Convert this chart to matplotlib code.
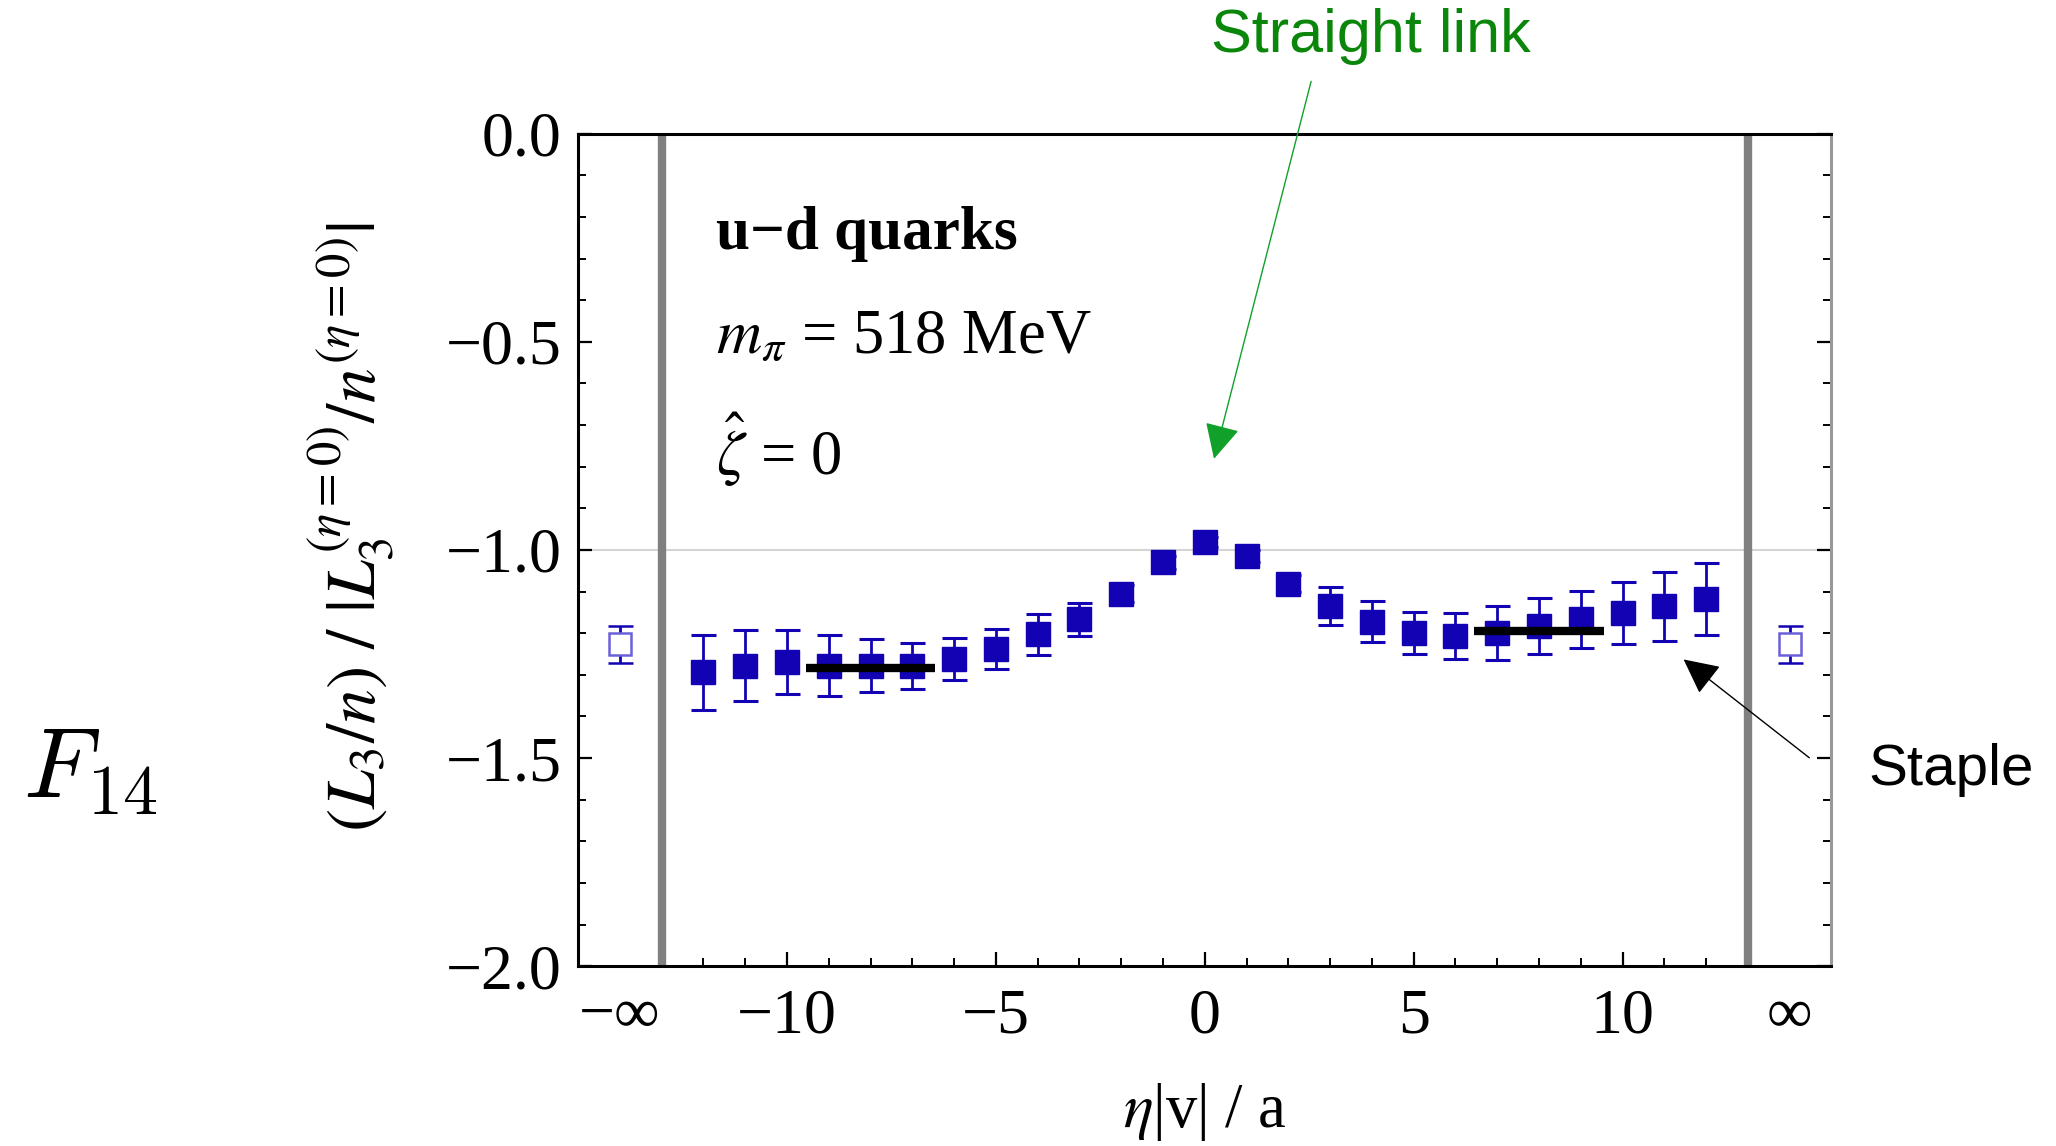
import numpy as np
import matplotlib
matplotlib.use('Agg')
import matplotlib.pyplot as plt

plt.rcParams['font.family'] = ['Liberation Serif', 'DejaVu Serif']
plt.rcParams['mathtext.fontset'] = 'stix'

# lattice points eta|v|/a
eta = [-12, -11, -10, -9, -8, -7, -6, -5, -4, -3, -2, -1, 0,
       1, 2, 3, 4, 5, 6, 7, 8, 9, 10, 11, 12]
ratio = [-1.294, -1.278, -1.270, -1.278, -1.278, -1.278, -1.262, -1.239, -1.203,
         -1.167, -1.105, -1.030, -0.982, -1.014, -1.081, -1.135, -1.172, -1.199,
         -1.207, -1.199, -1.183, -1.167, -1.151, -1.135, -1.118]
ratio_err = [0.090, 0.085, 0.077, 0.073, 0.063, 0.055, 0.050, 0.048, 0.050,
             0.040, 0.020, 0.015, 0.012, 0.015, 0.020, 0.045, 0.050, 0.050,
             0.055, 0.065, 0.068, 0.068, 0.075, 0.083, 0.087]

# extrapolated values at eta -> -inf / +inf
inf_pos = [-14, 14]
inf_val = [-1.227, -1.227]
inf_err = [0.045, 0.045]

# plateau fits
fit_left_x = [-9.55, -6.45]
fit_left_y = [-1.283, -1.283]
fit_right_x = [6.45, 9.55]
fit_right_y = [-1.195, -1.195]

xtick_pos = [-14, -10, -5, 0, 5, 10, 14]
xtick_lab = ['\u2212\u221e', '\u221210', '\u22125', '0', '5', '10', '\u221e']
ytick_pos = [0.0, -0.5, -1.0, -1.5, -2.0]
ytick_lab = ['0.0', '\u22120.5', '\u22121.0', '\u22121.5', '\u22122.0']

blue = '#1202b4'

fig = plt.figure(figsize=(20.56, 11.46), dpi=100)
ax = fig.add_axes([0.2812, 0.1569, 0.6096, 0.7264])

ax.axhline(-1.0, color='#d4d4d4', lw=1.5, zorder=1)
ax.axvline(-13, color='#808080', lw=6, zorder=2)
ax.axvline(13, color='#808080', lw=6, zorder=2)

ax.errorbar(eta, ratio, yerr=ratio_err, fmt='s', color=blue, ms=17.5,
            mec=blue, mfc=blue, elinewidth=2.0, capsize=9, capthick=2.2, zorder=4)
ax.errorbar(inf_pos, inf_val, yerr=inf_err, fmt='s', color=blue, ms=16,
            mec='#6a60d8', mfc='white', mew=1.8, elinewidth=2.0, capsize=9,
            capthick=2.2, zorder=4)

ax.plot(fit_left_x, fit_left_y, color='black', lw=6, solid_capstyle='butt', zorder=5)
ax.plot(fit_right_x, fit_right_y, color='black', lw=6, solid_capstyle='butt', zorder=5)

ax.set_xlim(-15, 15)
ax.set_ylim(-2.0, 0.0)

ax.set_xticks(xtick_pos)
ax.set_xticklabels(xtick_lab, fontsize=46)
ax.set_xticks(range(-12, 13), minor=True)
ax.set_yticks(ytick_pos)
ax.set_yticklabels(ytick_lab, fontsize=46)
ax.set_yticks(np.arange(-2.0, 0.01, 0.1), minor=True)

ax.tick_params(axis='both', which='major', direction='in', length=10, width=1.6)
ax.tick_params(axis='both', which='minor', direction='in', length=6, width=1.4)
ax.tick_params(axis='x', which='major', pad=16)
ax.tick_params(axis='y', which='major', pad=12)
ax.tick_params(axis='y', which='both', right=True)
ax.tick_params(axis='x', which='both', top=False)
for t in (ax.xaxis.get_major_ticks()[0], ax.xaxis.get_major_ticks()[-1]):
    t.tick1line.set_visible(False)

for s in ['left', 'bottom', 'top']:
    ax.spines[s].set_linewidth(2.2)
    ax.spines[s].set_color('black')
ax.spines['right'].set_linewidth(2.2)
ax.spines['right'].set_color('#999999')

ax.text(-11.7, -0.24, 'u\u2212d quarks', fontsize=44, fontweight='bold', va='center')
ax.text(-11.7, -0.49, r'$m_{\pi}$ = 518 MeV', fontsize=45, va='center')
ax.text(-11.7, -0.76, r'$\hat{\zeta}$ = 0', fontsize=45, va='center')

fig.text(0.586, 0.030, r'$\eta$|v| / a', fontsize=45, ha='center', va='center')
fig.text(0.171, 0.54, r'$(L_3/n)\ /\ |L_3^{(\eta=0)}/n^{(\eta=0)}|$', fontsize=50,
         rotation=90, ha='center', va='center')

fig.text(0.044, 0.325, r'$F_{14}$', fontsize=72, ha='center', va='center',
         math_fontfamily='cm')

ax.annotate('', xy=(0.22, -0.781), xycoords='data',
            xytext=(0.6377, 0.929), textcoords='figure fraction',
            arrowprops=dict(arrowstyle='-|>', mutation_scale=55, lw=1.0,
                            color='#11a02a', shrinkA=0, shrinkB=0))
fig.text(0.667, 0.968, 'Straight link', fontsize=44, color='#0a860a',
         ha='center', va='center', family=['Liberation Sans Narrow', 'Liberation Sans'])

ax.annotate('', xy=(11.46, -1.263), xycoords='data',
            xytext=(0.880, 0.3388), textcoords='figure fraction',
            arrowprops=dict(arrowstyle='-|>', mutation_scale=55, lw=1.0,
                            color='black', shrinkA=0, shrinkB=0))
fig.text(0.949, 0.3285, 'Staple', fontsize=42, color='black',
         ha='center', va='center', family=['Liberation Sans', 'DejaVu Sans'])

fig.savefig('out.png', dpi=100)
